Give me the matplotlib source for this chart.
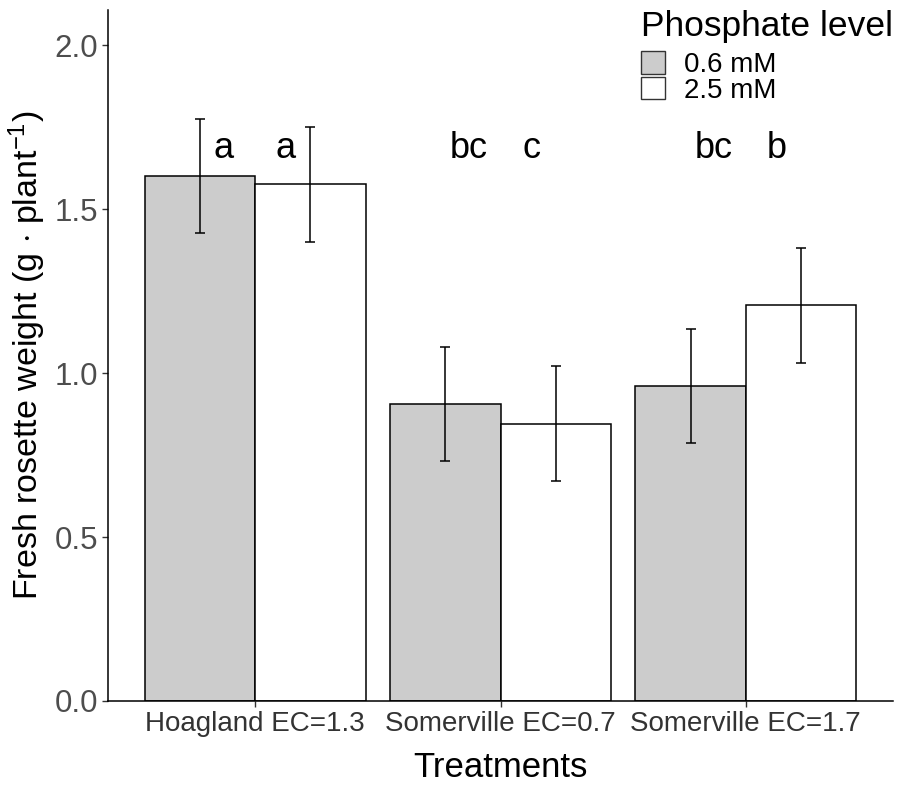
import matplotlib
matplotlib.use("Agg")
import matplotlib.pyplot as plt
import numpy as np
from matplotlib.patches import Patch

plt.rcParams['font.family'] = ['Liberation Sans', 'DejaVu Sans']
plt.rcParams['mathtext.fontset'] = 'custom'
plt.rcParams['mathtext.rm'] = 'Liberation Sans'
plt.rcParams['mathtext.it'] = 'Liberation Sans:italic'

treatments = ['Hoagland EC=1.3', 'Somerville EC=0.7', 'Somerville EC=1.7']
levels = ['0.6 mM', '2.5 mM']
mean_06 = [1.600, 0.905, 0.960]
mean_25 = [1.576, 0.845, 1.207]
se_06 = [0.174, 0.174, 0.174]
se_25 = [0.175, 0.175, 0.175]
letters_06 = ['a', 'bc', 'bc']
letters_25 = ['a', 'c', 'b']
letter_y = 1.686

fig = plt.figure(figsize=(8.98, 8.08), dpi=100)
ax = fig.add_axes([108/898, 1-701/808, (893-108)/898, (701-10)/808])

x = np.arange(1, 4)
w = 0.45
ax.bar(x - w/2, mean_06, w, color='#cccccc', edgecolor='black', linewidth=1.1)
ax.bar(x + w/2, mean_25, w, color='white', edgecolor='black', linewidth=1.1)
ax.errorbar(x - w/2, mean_06, yerr=se_06, fmt='none', ecolor='black', elinewidth=1.1, capsize=3.3, capthick=1.1)
ax.errorbar(x + w/2, mean_25, yerr=se_25, fmt='none', ecolor='black', elinewidth=1.1, capsize=3.3, capthick=1.1)

for i in range(3):
    ax.text(x[i] - 0.13, letter_y, letters_06[i], ha='center', va='center', fontsize=26)
    ax.text(x[i] + 0.125, letter_y, letters_25[i], ha='center', va='center', fontsize=26)

ax.set_xlim(0.4, 3.6)
ax.set_ylim(0, 2.107)
ax.set_xticks(x)
ax.set_xticklabels(treatments, fontsize=20, color='#333333')
ax.set_yticks([0, 0.5, 1.0, 1.5, 2.0])
ax.set_yticklabels(['0.0', '0.5', '1.0', '1.5', '2.0'], fontsize=22.5, color='#4d4d4d')
ax.tick_params(length=4, width=1, color='#333333', pad=3)
for s in ['top', 'right']:
    ax.spines[s].set_visible(False)
for s in ['left', 'bottom']:
    ax.spines[s].set_linewidth(1.1)

ax.set_xlabel('Treatments', fontsize=25, labelpad=10)
ax.set_ylabel(r'Fresh rosette weight (g $\cdot$ plant$^{\mathregular{-1}}$)', fontsize=24.5, labelpad=5)

handles = [Patch(facecolor='#cccccc', edgecolor='#333333', label=levels[0]),
           Patch(facecolor='white', edgecolor='#333333', label=levels[1])]
leg = ax.legend(handles=handles, title='Phosphate level', loc='upper right',
                bbox_to_anchor=(1.0, 1.0), frameon=False, fontsize=20,
                title_fontsize=25.5, handlelength=0.86, handleheight=0.86,
                handletextpad=0.7, labelspacing=-0.05, borderpad=0.0,
                borderaxespad=0.0)
leg._legend_box.align = 'left'
leg._legend_box.sep = 6

fig.savefig('out.png', dpi=100)
